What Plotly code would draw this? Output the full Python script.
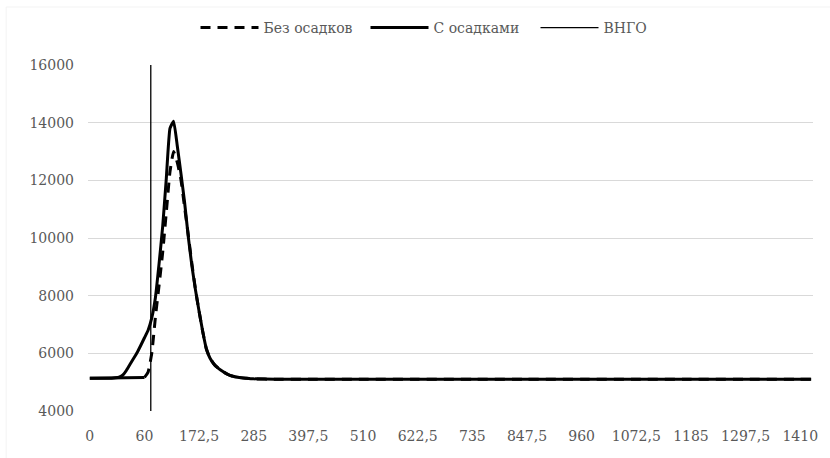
import plotly.graph_objects as go

# --- data (time on a category-like axis) ---
t_rain = [0, 24, 28, 32, 36, 40, 44, 48, 52, 56, 60, 67.5, 75, 82.5, 90, 97.5, 105, 112.5,
          120, 127.5, 135, 142.5, 150, 157.5, 165, 172.5, 180, 187.5, 195, 202.5, 210,
          217.5, 225, 232.5, 240, 255, 270, 285, 330, 397.5, 510, 622.5, 735, 847.5, 960,
          1072.5, 1185, 1297.5, 1410, 1432.5]
q_rain = [5140, 5140, 5150, 5170, 5240, 5400, 5610, 5820, 6030, 6280, 6540, 6800, 7230, 7930,
          9100, 10400, 12080, 13800, 14050, 13200, 12250, 11250, 10070, 9050, 8200, 7450,
          6750, 6150, 5830, 5640, 5510, 5410, 5330, 5260, 5215, 5160, 5135, 5115, 5100, 5100,
          5100, 5100, 5100, 5100, 5100, 5100, 5100, 5100, 5100, 5100]

t_dry = [0, 56, 60, 67.5, 75, 82.5, 90, 97.5, 105, 112.5, 120, 127.5, 135, 142.5, 150, 157.5,
         165, 172.5, 180, 187.5, 195, 202.5, 210, 217.5, 225, 232.5, 240, 255, 270, 285, 330,
         397.5, 510, 622.5, 735, 847.5, 960, 1072.5, 1185, 1297.5, 1410, 1432.5]
q_dry = [5140, 5140, 5165, 5350, 6000, 7250, 8350, 9500, 10900, 12300, 13000, 12620, 12030,
         11080, 10130, 9130, 8220, 7450, 6750, 6150, 5830, 5640, 5510, 5410, 5330, 5260, 5215,
         5160, 5135, 5115, 5100, 5100, 5100, 5100, 5100, 5100, 5100, 5100, 5100, 5100, 5100, 5100]

vngo_t = [73, 73]
vngo_q = [4000, 16000]

tick_times = [0, 60, 172.5, 285, 397.5, 510, 622.5, 735, 847.5, 960, 1072.5, 1185, 1297.5, 1410]
y_ticks = [4000, 6000, 8000, 10000, 12000, 14000, 16000]


def slot(t):
    # category position: 4-min steps up to 60, then 7.5-min steps
    return t / 4 if t <= 60 else 15 + (t - 60) / 7.5


def label(t):
    s = ("%g" % t)
    return s.replace(".", ",")


FONT = "DejaVu Serif"
GREY = "#595959"

# dense flat segments render as continuous line in the source; dashes show on the steep part
flat_end = t_dry.index(60)

fig = go.Figure()
fig.add_trace(go.Scatter(x=[slot(t) for t in t_dry[:flat_end + 1]], y=q_dry[:flat_end + 1],
                         mode="lines", showlegend=False, hoverinfo="skip",
                         line=dict(color="black", width=3)))
fig.add_trace(go.Scatter(x=[slot(t) for t in t_dry[flat_end:]], y=q_dry[flat_end:], mode="lines",
                         name="Без осадков",
                         line=dict(color="black", width=3, dash="10px,7px", shape="spline", smoothing=0.4)))
fig.add_trace(go.Scatter(x=[slot(t) for t in t_rain], y=q_rain, mode="lines", name="С осадками",
                         line=dict(color="black", width=3, shape="spline", smoothing=0.4)))
fig.add_trace(go.Scatter(x=[slot(t) for t in vngo_t], y=vngo_q, mode="lines", name="ВНГО",
                         line=dict(color="black", width=1.3)))

# plot area geometry
L, T, W, H = 88.2, 65, 728.3, 346
fig.update_layout(
    template="simple_white",
    width=830, height=458,
    margin=dict(l=L, r=830 - L - W, t=T, b=458 - T - H),
    paper_bgcolor="white", plot_bgcolor="white",
    font=dict(family=FONT, size=14, color=GREY),
    showlegend=True,
    legend=dict(orientation="h", x=0.5, xanchor="center", xref="paper",
                y=1 - 28 / 458, yanchor="middle", yref="container",
                font=dict(family=FONT, size=14, color=GREY), itemwidth=58,
                entrywidth=97, entrywidthmode="pixels", tracegroupgap=0),
    shapes=[dict(type="rect", xref="paper", yref="paper",
                 x0=(6 - L) / W, x1=(845 - L) / W, y0=(T + H - 475) / H, y1=(T + H - 7) / H,
                 line=dict(color="#d9d9d9", width=1), fillcolor="rgba(0,0,0,0)", layer="below")],
)
fig.update_xaxes(range=[-0.5, 198.5], tickmode="array",
                 tickvals=[slot(t) for t in tick_times], ticktext=[label(t) for t in tick_times],
                 showgrid=False, zeroline=False, showline=False, ticks="",
                 tickfont=dict(family=FONT, size=14, color=GREY), ticklabelstandoff=15)
fig.update_yaxes(range=[4000, 16000], tickvals=y_ticks, tickformat="d", showgrid=True,
                 gridcolor="#d9d9d9", gridwidth=1, zeroline=False, showline=False, ticks="",
                 tickfont=dict(family=FONT, size=14, color=GREY), ticklabelstandoff=13)

fig.write_html("out.html", post_script="document.body.style.margin='0';",
               config={"displayModeBar": False})
